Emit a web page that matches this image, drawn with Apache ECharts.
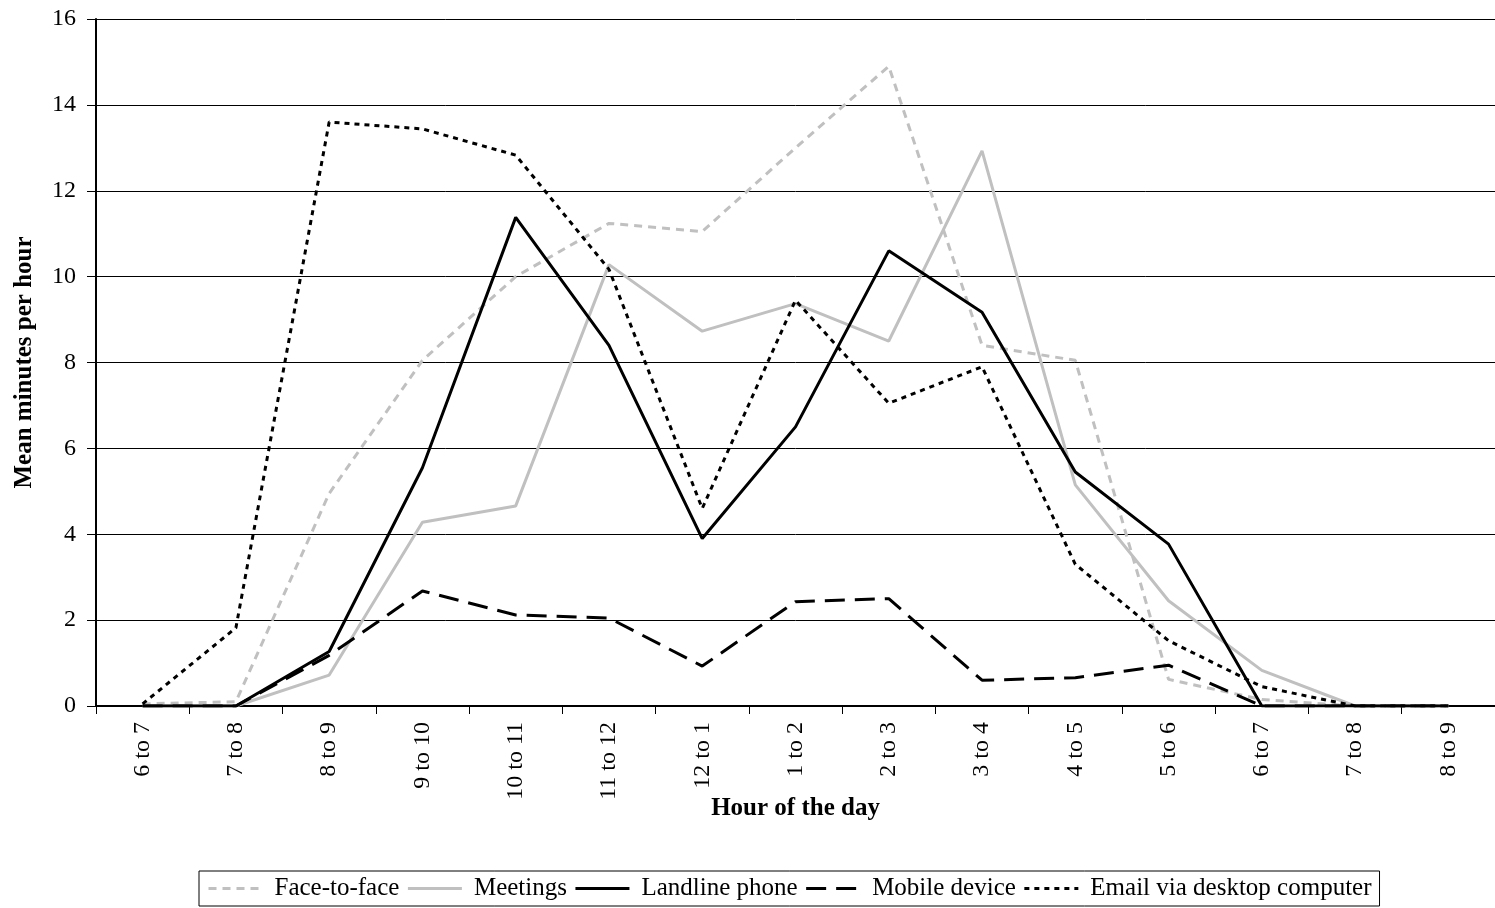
<!DOCTYPE html>
<html>
<head>
<meta charset="utf-8">
<script src="https://cdn.jsdelivr.net/npm/echarts@6/dist/echarts.min.js"></script>
<style>
html, body { margin: 0; padding: 0; background: #fff; }
#chart { width: 1495px; height: 908px; }
</style>
</head>
<body>
<div id="chart"></div>
<script>
const hours = ['6 to 7', '7 to 8', '8 to 9', '9 to 10', '10 to 11', '11 to 12', '12 to 1',
  '1 to 2', '2 to 3', '3 to 4', '4 to 5', '5 to 6', '6 to 7', '7 to 8', '8 to 9'];

const faceToFace = [0.05, 0.1, 4.95, 8.05, 10.0, 11.24, 11.05, 13.0, 14.9, 8.4, 8.05, 0.62, 0.15, 0, 0];
const meetings   = [0, 0, 0.72, 4.28, 4.66, 10.28, 8.73, 9.37, 8.5, 12.93, 5.15, 2.45, 0.83, 0, 0];
const landline   = [0, 0, 1.27, 5.55, 11.38, 8.4, 3.9, 6.5, 10.6, 9.17, 5.45, 3.77, 0, 0, 0];
const mobile     = [0, 0, 1.18, 2.68, 2.12, 2.05, 0.93, 2.43, 2.5, 0.6, 0.66, 0.95, 0, 0, 0];
const email      = [0.05, 1.82, 13.6, 13.44, 12.83, 10.17, 4.6, 9.45, 7.05, 7.9, 3.3, 1.52, 0.45, 0, 0];

const yTicks = [0, 2, 4, 6, 8, 10, 12, 14, 16];

const font = 'Liberation Serif';
const grey = '#c0c0c0';

const chart = echarts.init(document.getElementById('chart'));

function line(name, data, color, type) {
  return {
    type: 'line',
    name: name,
    data: data,
    symbol: 'none',
    animation: false,
    lineStyle: { color: color, width: 3, type: type },
    itemStyle: { color: color }
  };
}

const option = {
  backgroundColor: '#fff',
  textStyle: { fontFamily: font },
  grid: { left: 96, right: 0, top: 19, bottom: 202, containLabel: false },
  legend: {
    left: 199,
    top: 871,
    padding: [5, 8, 5, 8],
    itemGap: 7,
    itemWidth: 54,
    itemHeight: 14,
    borderColor: '#000',
    borderWidth: 1,
    itemStyle: { color: 'rgba(0,0,0,0)', borderWidth: 0, opacity: 0 },
    lineStyle: { width: 3 },
    textStyle: { fontFamily: font, fontSize: 25, color: '#000', padding: [0, 0, 0, 7] },
    data: ['Face-to-face', 'Meetings', 'Landline phone', 'Mobile device', 'Email via desktop computer']
  },
  xAxis: {
    type: 'category',
    data: hours,
    boundaryGap: true,
    name: 'Hour of the day',
    nameLocation: 'middle',
    nameGap: 90,
    nameMoveOverlap: false,
    nameTextStyle: { fontFamily: font, fontSize: 25, fontWeight: 'bold', color: '#000' },
    axisLine: { lineStyle: { color: '#000', width: 2 } },
    axisTick: { show: true, length: 8, lineStyle: { color: '#000' } },
    axisLabel: { interval: 0, rotate: 90, margin: 16, fontFamily: font, fontSize: 24, color: '#000' },
    splitLine: { show: false }
  },
  yAxis: {
    type: 'value',
    min: yTicks[0],
    max: yTicks[yTicks.length - 1],
    interval: 2,
    name: 'Mean minutes per hour',
    nameLocation: 'middle',
    nameGap: 59,
    nameTextStyle: { fontFamily: font, fontSize: 25, fontWeight: 'bold', color: '#000' },
    axisLine: { show: true, lineStyle: { color: '#000', width: 2 } },
    axisTick: { show: true, length: 9, lineStyle: { color: '#000' } },
    axisLabel: { margin: 20, fontFamily: font, fontSize: 24, color: '#000' },
    splitLine: { show: true, lineStyle: { color: '#000', width: 1 } }
  },
  series: [
    line('Face-to-face', faceToFace, grey, [8, 6]),
    line('Meetings', meetings, grey, 'solid'),
    line('Landline phone', landline, '#000', 'solid'),
    line('Mobile device', mobile, '#000', [20, 10]),
    line('Email via desktop computer', email, '#000', [5, 5])
  ]
};

chart.setOption(option);
</script>
</body>
</html>
